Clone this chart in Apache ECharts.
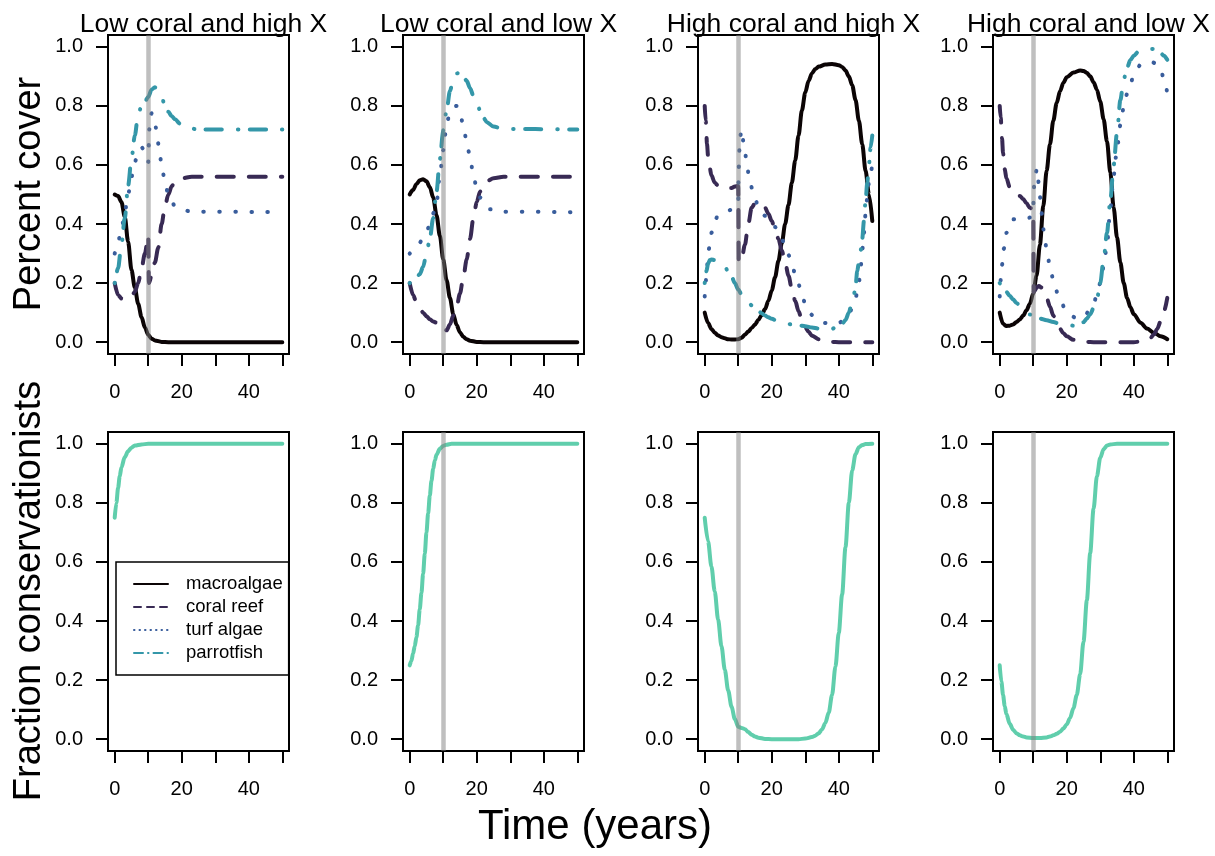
<!DOCTYPE html>
<html>
<head>
<meta charset="utf-8">
<script src="https://cdn.jsdelivr.net/npm/echarts@6/dist/echarts.min.js"></script>
<style>
html,body{margin:0;padding:0;background:#fff;}
#chart{width:1215px;height:856px;}
</style>
</head>
<body>
<div id="chart"></div>
<script>
// ---------- tick labels / categories ----------
const xTicks = [0, 10, 20, 30, 40, 50];
const xLabels = [0, 20, 40];
const yTicks = [0, 0.2, 0.4, 0.6, 0.8, 1];
const panelTitles = ['Low coral and high X', 'Low coral and low X', 'High coral and high X', 'High coral and low X'];
const seriesNames = ['macroalgae', 'coral reef', 'turf algae', 'parrotfish'];
const disturbanceYear = 10;

// ---------- Panel 1: Low coral and high X ----------
const p1Macro = [[0,0.5],[1,0.495],[2,0.475],[3,0.425],[4,0.34],[5,0.245],[6,0.185],[7,0.13],[8,0.085],[9,0.05],[10,0.025],[11,0.012],[12,0.006],[14,0.001],[16,0],[50,0]];
const p1Coral = [[0,0.2],[1,0.16],[2,0.148],[3,0.145],[4,0.148],[5,0.155],[6,0.17],[7,0.2],[8,0.25],[9,0.3],[10,0.36],[10.2,0.2],[11,0.225],[12,0.27],[13,0.32],[14,0.4],[15,0.46],[16,0.5],[17,0.528],[18,0.543],[20,0.555],[23,0.56],[50,0.56]];
const p1Turf = [[0,0.3],[1,0.34],[2,0.38],[3,0.44],[4,0.5],[5,0.56],[6,0.61],[7,0.645],[8,0.66],[9,0.645],[10,0.61],[10.3,0.72],[11,0.775],[11.7,0.77],[12.5,0.715],[13.2,0.66],[14,0.6],[15,0.54],[16,0.5],[17,0.475],[18,0.46],[20,0.448],[23,0.442],[50,0.44]];
const p1Parrot = [[0,0.2],[1,0.25],[2,0.33],[3,0.42],[4,0.53],[5,0.62],[6,0.7],[7,0.77],[8,0.8],[9,0.815],[10,0.83],[11,0.855],[12,0.863],[13,0.85],[14,0.83],[15,0.8],[16,0.78],[17,0.765],[18,0.755],[19.5,0.74],[22,0.725],[25,0.72],[50,0.72]];

// ---------- Panel 2: Low coral and low X ----------
const p2Macro = [[0,0.5],[1,0.515],[2,0.535],[3,0.548],[4,0.552],[5,0.545],[6,0.525],[7,0.49],[8,0.43],[9,0.36],[10,0.28],[11,0.21],[12,0.15],[13,0.095],[14,0.058],[15,0.033],[16,0.018],[17,0.01],[18,0.005],[20,0.001],[22,0],[50,0]];
const p2Coral = [[0,0.2],[1,0.16],[2,0.135],[3,0.115],[4,0.1],[5,0.088],[6,0.078],[7,0.07],[8,0.066],[9,0.064],[10,0.062],[10.5,0.045],[11,0.04],[12,0.06],[13,0.09],[14,0.12],[15,0.165],[16,0.22],[17,0.28],[18,0.35],[19,0.42],[20,0.475],[21,0.51],[22,0.53],[23,0.545],[25,0.555],[28,0.56],[50,0.56]];
const p2Turf = [[0,0.3],[1,0.31],[2,0.325],[3,0.337],[4,0.355],[5,0.372],[6,0.4],[7,0.436],[8,0.47],[9,0.565],[10,0.65],[10.5,0.7],[11,0.74],[12,0.775],[13,0.795],[14,0.8],[15,0.78],[16,0.73],[17,0.68],[18,0.625],[19,0.565],[20,0.52],[21,0.49],[22,0.47],[24,0.45],[27,0.442],[50,0.44]];
const p2Parrot = [[0,0.2],[1,0.21],[2,0.22],[3,0.23],[4,0.255],[5,0.3],[6,0.35],[7,0.42],[8,0.51],[9,0.62],[10,0.717],[11,0.785],[12,0.85],[13,0.89],[14,0.91],[15,0.912],[16,0.9],[17,0.885],[18,0.86],[19,0.835],[20,0.81],[21,0.785],[22,0.76],[23,0.745],[25,0.73],[28,0.722],[50,0.72]];

// ---------- Panel 3: High coral and high X ----------
const p3Macro = [[0,0.1],[1,0.065],[2,0.045],[3,0.032],[4,0.023],[5,0.017],[6,0.013],[7,0.01],[8,0.009],[9,0.009],[10,0.01],[11,0.015],[12,0.025],[13,0.036],[14,0.048],[15,0.06],[16,0.075],[17,0.092],[18,0.112],[19,0.14],[20,0.175],[21,0.22],[22,0.275],[23,0.335],[24,0.4],[25,0.465],[26,0.54],[27,0.615],[28,0.7],[29,0.785],[30,0.845],[31,0.885],[32,0.91],[33,0.925],[34,0.933],[36,0.94],[38,0.942],[40,0.938],[41,0.932],[42,0.92],[43,0.9],[44,0.87],[45,0.82],[46,0.75],[47,0.67],[48,0.58],[49,0.5],[50,0.41]];
const p3Coral = [[0,0.8],[0.3,0.75],[0.7,0.67],[1,0.63],[1.5,0.59],[2,0.565],[3,0.54],[4,0.53],[6,0.522],[8,0.522],[9,0.527],[10,0.53],[10.15,0.27],[11,0.28],[12,0.33],[13,0.4],[14,0.455],[15,0.47],[16,0.472],[17,0.468],[18,0.455],[19,0.435],[20,0.41],[21,0.38],[22,0.35],[23,0.31],[24,0.27],[25,0.225],[26,0.18],[27,0.14],[28,0.105],[29,0.075],[30,0.05],[31,0.035],[32,0.022],[34,0.01],[36,0.004],[38,0.001],[40,0],[50,0]];
const p3Turf = [[0,0.155],[0.3,0.205],[0.7,0.26],[1.2,0.315],[2,0.37],[3,0.41],[4,0.43],[6,0.442],[8,0.448],[9,0.455],[10,0.47],[10.1,0.58],[10.5,0.69],[11,0.72],[11.7,0.668],[12.5,0.615],[13.2,0.56],[14.4,0.51],[16,0.46],[17,0.44],[18,0.428],[19,0.418],[20,0.405],[21,0.39],[22,0.37],[23,0.35],[24,0.324],[25,0.295],[26,0.265],[27,0.23],[28,0.195],[29,0.16],[30,0.13],[31,0.11],[32,0.092],[33,0.082],[34,0.075],[36,0.065],[38,0.06],[40,0.065],[42,0.08],[43,0.095],[44,0.115],[45,0.15],[46,0.2],[46.5,0.25],[47,0.31],[47.5,0.37],[48,0.435],[48.5,0.49],[49,0.54],[49.5,0.575],[50,0.6]];
const p3Parrot = [[0,0.2],[0.5,0.24],[1,0.265],[1.5,0.278],[2,0.28],[3,0.278],[4,0.272],[5,0.265],[6,0.255],[7,0.24],[8,0.222],[9,0.2],[10,0.178],[11,0.162],[12,0.148],[13,0.137],[14,0.125],[15,0.115],[16,0.106],[17,0.098],[18,0.09],[19,0.084],[20,0.079],[22,0.07],[24,0.064],[26,0.06],[28,0.057],[30,0.054],[32,0.05],[34,0.046],[36,0.044],[38,0.045],[39,0.05],[40,0.055],[41,0.062],[42,0.075],[43,0.1],[44,0.14],[44.5,0.16],[45,0.19],[45.5,0.24],[46,0.27],[46.5,0.31],[47,0.35],[47.5,0.41],[48,0.48],[48.5,0.54],[49,0.6],[49.5,0.66],[50,0.7]];

// ---------- Panel 4: High coral and low X ----------
const p4Macro = [[0,0.1],[1,0.062],[2,0.055],[3,0.056],[4,0.06],[5,0.068],[6,0.077],[7,0.09],[8,0.108],[9,0.13],[10,0.165],[11,0.225],[12,0.33],[13,0.46],[14,0.58],[15,0.67],[16,0.75],[17,0.81],[18,0.85],[19,0.878],[20,0.897],[22,0.913],[24,0.92],[25,0.918],[26,0.912],[27,0.9],[28,0.88],[29,0.855],[30,0.815],[31,0.755],[32,0.68],[33,0.575],[34,0.455],[35,0.355],[36,0.27],[37,0.2],[38,0.15],[39,0.118],[40,0.095],[42,0.066],[44,0.046],[46,0.032],[48,0.02],[50,0.01]];
const p4Coral = [[0,0.8],[0.3,0.76],[0.7,0.69],[1,0.64],[1.5,0.585],[2,0.555],[3,0.525],[4,0.51],[5,0.5],[6,0.495],[7,0.485],[8,0.47],[9,0.455],[10,0.45],[10.15,0.17],[10.5,0.175],[11,0.185],[11.7,0.19],[12.5,0.185],[13.2,0.175],[14,0.15],[15,0.12],[16,0.09],[17,0.065],[18,0.045],[19,0.03],[20,0.02],[22,0.008],[24,0.003],[26,0.001],[28,0],[40,0],[42,0.002],[43,0.004],[44,0.008],[45,0.015],[46,0.026],[47,0.045],[48,0.07],[49,0.105],[50,0.15]];
const p4Turf = [[0,0.155],[0.2,0.205],[0.7,0.262],[1.2,0.316],[2,0.37],[3,0.4],[4,0.416],[6,0.42],[8,0.418],[9,0.422],[10,0.44],[10.15,0.52],[10.6,0.57],[11.2,0.588],[11.7,0.53],[12.2,0.48],[12.7,0.422],[13.2,0.37],[14,0.316],[14.9,0.262],[16,0.211],[17.5,0.158],[19.7,0.11],[21,0.092],[23,0.08],[25,0.085],[27,0.11],[28,0.13],[29,0.16],[30,0.2],[31,0.255],[32,0.33],[33,0.45],[34,0.565],[35,0.655],[36,0.735],[37,0.795],[38,0.84],[39,0.875],[40,0.905],[41,0.925],[42,0.94],[43,0.946],[45,0.95],[47,0.942],[48,0.925],[49,0.89],[50,0.843]];
const p4Parrot = [[0,0.2],[1,0.185],[2,0.17],[3,0.157],[4,0.145],[5,0.133],[6,0.123],[7,0.113],[8,0.103],[9,0.094],[10,0.088],[12,0.08],[14,0.074],[16,0.068],[18,0.062],[20,0.058],[22,0.056],[24,0.06],[25,0.068],[26,0.08],[27,0.095],[28,0.115],[29,0.145],[30,0.2],[31,0.28],[32,0.37],[33,0.48],[34,0.6],[35,0.71],[36,0.82],[37,0.89],[38,0.93],[39,0.955],[40,0.97],[41.5,0.985],[43,0.99],[46,0.993],[47.5,0.985],[49,0.97],[50,0.956]];

// ---------- Bottom row: fraction conservationists ----------
const b1Cons = [[0,0.75],[0.5,0.8],[1,0.85],[1.5,0.89],[2,0.92],[3,0.955],[4,0.975],[5,0.987],[6,0.994],[8,0.998],[10,1],[50,1]];
const b2Cons = [[0,0.25],[0.5,0.265],[1,0.29],[1.5,0.315],[2,0.345],[2.5,0.385],[3,0.44],[3.5,0.495],[4,0.56],[4.5,0.628],[5,0.7],[5.5,0.765],[6,0.825],[6.5,0.875],[7,0.915],[7.5,0.944],[8,0.963],[9,0.983],[10,0.993],[11,0.997],[12.5,1],[50,1]];
const b3Cons = [[0,0.75],[1,0.67],[2,0.585],[3,0.5],[4,0.405],[5,0.315],[6,0.235],[7,0.165],[8,0.11],[9,0.068],[10,0.042],[11,0.038],[12,0.034],[13,0.024],[14,0.015],[15,0.009],[16,0.005],[18,0.001],[20,0],[28,0],[30,0.002],[32,0.007],[33,0.012],[34,0.02],[35,0.033],[36,0.055],[37,0.09],[38,0.15],[39,0.245],[40,0.36],[41,0.49],[42,0.65],[43,0.8],[44,0.91],[45,0.965],[46,0.988],[47,0.996],[48,0.999],[50,1]];
const b4Cons = [[0,0.25],[0.5,0.195],[1,0.15],[1.5,0.112],[2,0.085],[3,0.052],[4,0.032],[5,0.02],[6,0.013],[7,0.009],[8,0.006],[10,0.004],[12,0.004],[14,0.006],[15,0.009],[16,0.013],[17,0.018],[18,0.025],[19,0.036],[20,0.05],[21,0.072],[22,0.105],[23,0.15],[24,0.22],[25,0.33],[26,0.47],[27,0.63],[28,0.78],[29,0.89],[30,0.953],[31,0.982],[32,0.994],[33,0.998],[35,1],[50,1]];

const topPanels = [
  [p1Macro, p1Coral, p1Turf, p1Parrot],
  [p2Macro, p2Coral, p2Turf, p2Parrot],
  [p3Macro, p3Coral, p3Turf, p3Parrot],
  [p4Macro, p4Coral, p4Turf, p4Parrot]
];
const bottomPanels = [b1Cons, b2Cons, b3Cons, b4Cons];
const showDisturbance = [true, true, true, true, false, true, true, true];

// ---------- styles ----------
const FONT = '"Liberation Sans", Arial, Helvetica, sans-serif';
const colors = ['#0B0405', '#382A54', '#395D9C', '#3497A9'];
const consColor = '#60CEAC';
const dashes = ['solid', [17, 15], [0.5, 15.5], [0.5, 11.5, 16, 16]];
const legendDashes = ['solid', [7, 6], [0.5, 5], [9, 5, 0.5, 5]];

const colLeft = [108, 403, 698, 993];
const colWidth = 181;
const rowTop = [35, 432];
const rowHeight = 319;

const grids = [], xAxes = [], yAxes = [], series = [];
for (let r = 0; r < 2; r++) {
  for (let c = 0; c < 4; c++) {
    const gi = r * 4 + c;
    grids.push({left: colLeft[c], top: rowTop[r], width: colWidth, height: rowHeight,
      show: true, borderColor: '#000', borderWidth: 2, backgroundColor: 'transparent', containLabel: false});
    xAxes.push({type: 'value', gridIndex: gi, min: -2, max: 52, position: 'bottom',
      axisLine: {show: false, onZero: false}, splitLine: {show: false},
      axisTick: {show: true, customValues: xTicks, length: 12, lineStyle: {color: '#000', width: 2}},
      axisLabel: {customValues: xLabels, fontSize: 20, color: '#000', fontFamily: FONT, margin: 28}});
    yAxes.push({type: 'value', gridIndex: gi, min: -0.04, max: 1.04, position: 'left',
      axisLine: {show: false, onZero: false}, splitLine: {show: false},
      axisTick: {show: true, customValues: yTicks, length: 12, lineStyle: {color: '#000', width: 2}},
      axisLabel: {customValues: yTicks, fontSize: 20, color: '#000', fontFamily: FONT, margin: 25,
        formatter: v => Number(v).toFixed(1)}});
    const lines = r === 0 ? topPanels[c] : [bottomPanels[c]];
    lines.forEach((d, k) => {
      const isTop = r === 0;
      series.push({
        type: 'line', name: isTop ? seriesNames[k] : 'conservationists',
        xAxisIndex: gi, yAxisIndex: gi, data: d,
        symbol: 'none', showSymbol: false, smooth: 0.3, smoothMonotone: 'x',
        silent: true, animation: false,
        itemStyle: {color: isTop ? colors[k] : consColor},
        lineStyle: {color: isTop ? colors[k] : consColor, width: 4,
          type: isTop ? dashes[k] : 'solid', cap: 'round', join: 'round'}
      });
    });
    if (showDisturbance[gi]) {
      series.push({
        type: 'line', name: 'disturbance', xAxisIndex: gi, yAxisIndex: gi, data: [],
        z: 5, silent: true, animation: false,
        markLine: {silent: true, symbol: ['none', 'none'], animation: false,
          label: {show: false},
          lineStyle: {color: 'rgba(128,128,128,0.5)', width: 4.5, type: 'solid'},
          data: [{xAxis: disturbanceYear}]}
      });
    }
  }
}

const titles = panelTitles.map((t, i) => ({
  text: t, left: colLeft[i] + colWidth / 2, top: 6, textAlign: 'center',
  textStyle: {fontSize: 26.5, fontWeight: 'normal', color: '#000', fontFamily: FONT}
}));

const option = {
  backgroundColor: '#fff',
  animation: false,
  title: titles,
  grid: grids,
  xAxis: xAxes,
  yAxis: yAxes,
  series: series,
  legend: {
    show: true, orient: 'vertical', left: 116, top: 562,
    selectedMode: false,
    data: seriesNames.map((n, k) => ({name: n,
      lineStyle: {width: 2, type: legendDashes[k], cap: 'round', color: colors[k]},
      itemStyle: {color: 'rgba(0,0,0,0)', borderWidth: 0, opacity: 0}})),
    itemWidth: 34, itemHeight: 14, itemGap: 3,
    padding: [12, 6, 12, 17],
    borderColor: '#000', borderWidth: 1.5, borderRadius: 0,
    textStyle: {fontSize: 18.5, color: '#000', fontFamily: FONT, lineHeight: 20, padding: [0, 0, 0, 13]}
  },
  graphic: [
    {type: 'text', x: 30, y: 194, rotation: Math.PI / 2,
      style: {text: 'Percent cover', fontSize: 38, fontFamily: FONT, fill: '#000', align: 'center', verticalAlign: 'middle'}},
    {type: 'text', x: 30, y: 591, rotation: Math.PI / 2,
      style: {text: 'Fraction conservationists', fontSize: 38, fontFamily: FONT, fill: '#000', align: 'center', verticalAlign: 'middle'}},
    {type: 'text', x: 595, y: 827,
      style: {text: 'Time (years)', fontSize: 42, fontFamily: FONT, fill: '#000', align: 'center', verticalAlign: 'middle'}}
  ]
};

const chart = echarts.init(document.getElementById('chart'), null, {renderer: 'canvas'});
chart.setOption(option);
</script>
</body>
</html>
